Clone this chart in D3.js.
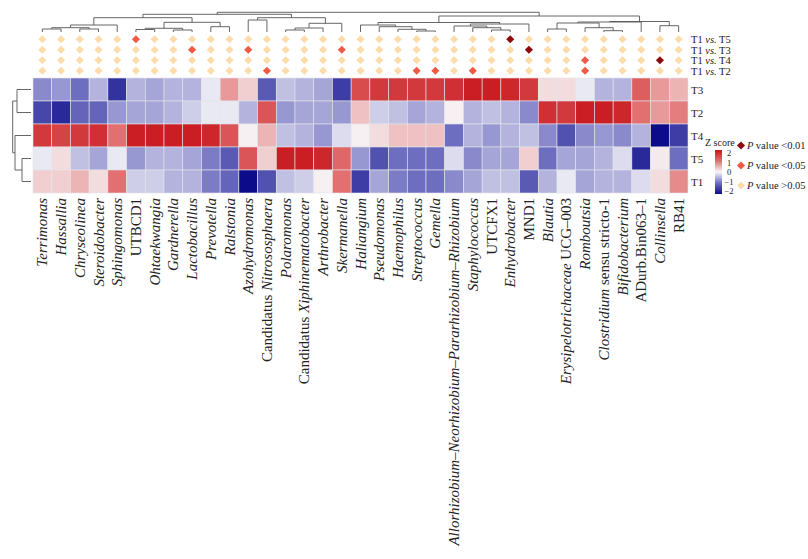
<!DOCTYPE html>
<html><head><meta charset="utf-8">
<script src="https://cdn.jsdelivr.net/npm/d3@7"></script>
<style>body{margin:0;background:#fff}text{font-family:"Liberation Serif","Times New Roman",serif;fill:#222}</style>
</head><body><svg width="808" height="559"></svg>
<script>
// genus labels, _x_ = italic
const genera = ["_Terrimonas_","_Hassallia_","_Chryseolinea_","_Steroidobacter_","_Sphingomonas_","UTBCD1","_Ohtaekwangia_","_Gardnerella_","_Lactobacillus_","_Prevotella_","_Ralstonia_","_Azohydromonas_","Candidatus _Nitrososphaera_","_Polaromonas_","Candidatus _Xiphinematobacter_","_Arthrobacter_","_Skermanella_","_Haliangium_","_Pseudomonas_","_Haemophilus_","_Streptococcus_","_Gemella_","_Allorhizobium\u2013Neorhizobium\u2013Pararhizobium\u2013Rhizobium_","_Staphylococcus_","UTCFX1","_Enhydrobacter_","MND1","_Blautia_","_Erysipelotrichaceae_ UCG\u2013003","_Romboutsia_","_Clostridium_ sensu stricto-1","_Bifidobacterium_","ADurb.Bin063\u20131","_Collinsella_","RB41"];
const groups = ["T3","T2","T4","T5","T1"];
// z scores, one array per row
const zT3 = [-0.8,-0.7,-1.0,-0.5,-1.6,-0.5,-0.6,-0.5,-0.5,-0.1,0.7,0.3,-1.2,-0.4,-0.5,-0.6,-1.5,1.4,1.6,1.6,1.6,1.6,1.7,1.9,1.9,1.8,1.6,0.2,0.2,-0.1,-0.5,-0.5,1.2,0.7,0.5];
const zT2 = [-1.4,-1.7,-1.1,-1.1,-0.7,-0.6,-0.6,-0.5,-0.3,-0.1,-0.1,-0.5,1.3,-0.7,-0.6,-0.6,-0.7,0.4,-0.3,-0.4,-0.6,-0.5,0.05,-0.5,-0.4,-0.5,-0.8,1.7,1.6,1.9,1.9,1.8,1.0,0.7,0.9];
const zT4 = [1.6,1.5,1.6,1.7,1.0,1.9,1.9,1.9,1.9,1.8,1.3,0.05,0.5,-0.4,-0.5,-0.7,-0.2,0.05,0.2,0.4,0.4,0.4,-1.0,-0.5,-0.7,-0.5,-0.4,-0.8,-1.3,-0.8,-0.7,-0.8,-0.5,-2.3,-1.5];
const zT5 = [-0.1,0.2,-0.4,-0.6,-0.1,-0.7,-0.5,-0.5,-0.6,-0.9,-1.2,1.3,0.3,1.9,1.9,1.8,1.1,-0.7,-1.3,-1.0,-1.0,-1.0,-0.2,-0.8,-0.6,-0.6,0.3,-1.0,-0.6,-0.6,-0.5,-0.2,-1.7,0.1,-1.0];
const zT1 = [0.3,0.3,0.5,0.2,1.0,-0.3,-0.3,-0.5,-0.5,-0.9,-1.1,-2.0,-1.3,-0.4,-0.3,0.05,1.0,-1.5,-0.6,-0.9,-1.0,-1.0,-0.8,-0.6,-0.4,-0.4,-1.2,-0.5,-0.1,-0.6,-0.5,-0.5,-0.2,0.2,0.8];
const zRows = [zT3, zT2, zT4, zT5, zT1];
// comparisons; significance 0: >0.05, 1: <0.05, 2: <0.01
const comparisons = ["T1 vs. T5","T1 vs. T3","T1 vs. T4","T1 vs. T2"];
const sigT5 = [0,0,0,0,0,1,0,0,0,0,0,0,0,0,0,0,0,0,0,0,0,0,0,0,0,2,0,0,0,0,0,0,0,0,0];
const sigT3 = [0,0,0,0,0,0,0,0,1,0,0,1,0,0,0,0,1,0,0,0,0,0,0,0,0,0,2,0,0,0,0,0,0,0,0];
const sigT4 = [0,0,0,0,0,0,0,0,0,0,0,0,0,0,0,0,0,0,0,0,0,0,0,0,0,0,0,0,0,1,0,0,0,2,0];
const sigT2 = [0,0,0,0,0,0,0,0,0,0,0,0,1,0,0,0,0,0,0,0,1,1,0,1,0,0,0,0,0,1,0,0,0,0,0];
const sigRows = [sigT5, sigT3, sigT4, sigT2];
const pLegend = ["value <0.01","value <0.05","value >0.05"];
const zTicks = [2, 1, 0, -1, -2];

// dendrogram nodes: merge height (px), two children; numbers are leaves
function n(h, a, b) { return {h: h, a: a, b: b}; }
const colTree = n(12.3,
  n(14.3,
    n(17.7,
      n(25, n(27.7, n(29, 0, 1), n(29, 2, 3)), 4),
      n(22.3, n(28.3, n(29.5, 5, 6), n(30, 7, 8)), n(26.7, 9, 10))),
    n(17.7, n(20, 11, 12), n(23.3, n(28, n(30, 13, 14), 15), 16))),
  n(16,
    n(22.5,
      n(25, 17, n(26.7, 18, n(29.3, 19, n(31, 20, 21)))),
      n(24, n(26, 22, n(27.7, 23, n(30, 24, 25))), 26)),
    n(21.5,
      n(22, n(23, n(29, 27, 28), n(27.7, 29, n(30.7, 30, 31))), 32),
      n(25.7, 33, 34))));
const rowTree = n(12.7, n(17, 0, 1), n(15, 2, n(22, 3, 4)));

const svg = d3.select("svg");
const L = 33, R = 688, T = 78, B = 193;
const x = d3.scaleBand().domain(d3.range(genera.length)).range([L, R]);
const y = d3.scaleBand().domain(d3.range(groups.length)).range([T, B]);
const color = d3.scaleLinear().domain([-2, -1, 0, 1, 2])
  .range(["#0c0c8a", "#6e6ec0", "#f7f7f9", "#e27070", "#c8151b"]).clamp(true);

// heatmap
zRows.forEach(function(row, r) {
  svg.append("g").selectAll("rect").data(row).join("rect")
    .attr("x", (d, i) => x(i)).attr("y", y(r))
    .attr("width", x.bandwidth()).attr("height", y.bandwidth())
    .attr("fill", d => color(d)).attr("stroke", "#e4e4ea").attr("stroke-width", 0.6);
});
svg.append("g").selectAll("text").data(groups).join("text")
  .attr("x", R + 3).attr("y", (d, i) => y(i) + y.bandwidth() / 2 + 4)
  .style("font-size", "11px").text(d => d);

// significance diamonds
const sigColor = ["#fcdcab", "#f05a45", "#8e0a0a"];
const dy = d3.scaleBand().domain(d3.range(4)).range([34, 76]);
const diamond = d3.symbol().type(d3.symbolDiamond2).size(42);
sigRows.forEach(function(row, r) {
  svg.append("g").selectAll("path").data(row).join("path")
    .attr("transform", (d, i) => "translate(" + (x(i) + x.bandwidth() / 2) + "," + (dy(r) + dy.bandwidth() / 2) + ")")
    .attr("d", diamond).attr("fill", d => sigColor[d]);
});
comparisons.forEach(function(c, r) {
  const parts = c.split(" ");
  const t = svg.append("text").attr("x", R + 3).attr("y", dy(r) + dy.bandwidth() / 2 + 4).style("font-size", "10.5px");
  t.append("tspan").text(parts[0] + " ");
  t.append("tspan").style("font-style", "italic").text(parts[1]);
  t.append("tspan").text(" " + parts[2]);
});

// labels with italic parts
function rich(sel, s) {
  s.split("_").forEach(function(p, k) {
    if (p) sel.append("tspan").style("font-style", k % 2 ? "italic" : "normal").text(p);
  });
}
genera.forEach(function(g, i) {
  const t = svg.append("text")
    .attr("transform", "translate(" + (x(i) + x.bandwidth() / 2 + 5) + "," + (B + 5) + ") rotate(-90)")
    .attr("text-anchor", "end").style("font-size", "15px");
  rich(t, g);
});

// dendrograms
function pos(node, leafPos) {
  if (typeof node === "number") return leafPos(node);
  return (pos(node.a, leafPos) + pos(node.b, leafPos)) / 2;
}
function drawTree(node, g, leafPos, leafH, horiz) {
  if (typeof node === "number") return;
  const pa = pos(node.a, leafPos), pb = pos(node.b, leafPos);
  const ha = typeof node.a === "number" ? leafH : node.a.h;
  const hb = typeof node.b === "number" ? leafH : node.b.h;
  let pts = [[pa, ha], [pa, node.h], [pb, node.h], [pb, hb]];
  if (horiz) pts = pts.map(q => [q[1], q[0]]);
  g.append("path").attr("d", d3.line()(pts))
    .attr("fill", "none").attr("stroke", "#555").attr("stroke-width", 0.9);
  drawTree(node.a, g, leafPos, leafH, horiz);
  drawTree(node.b, g, leafPos, leafH, horiz);
}
drawTree(colTree, svg.append("g"), i => x(i) + x.bandwidth() / 2, 32, false);
drawTree(rowTree, svg.append("g"), i => y(i) + y.bandwidth() / 2, 31, true);

// z-score legend
const lg = svg.append("g");
lg.append("text").attr("x", 705).attr("y", 146).style("font-size", "10px").text("Z score");
const grad = svg.append("defs").append("linearGradient").attr("id", "zg")
  .attr("x1", 0).attr("x2", 0).attr("y1", 0).attr("y2", 1);
zTicks.forEach((v, k) => grad.append("stop").attr("offset", k / 4).attr("stop-color", color(v)));
const ly = d3.scaleLinear().domain([2, -2]).range([153, 191]);
lg.append("rect").attr("x", 715).attr("y", 150).attr("width", 7).attr("height", 44).attr("fill", "url(#zg)");
lg.selectAll("text.t").data(zTicks).join("text").attr("class", "t")
  .attr("x", 729).attr("y", d => ly(d) + 3).attr("text-anchor", "middle").style("font-size", "8.5px")
  .text(d => d < 0 ? "\u2212" + (-d) : d);
pLegend.forEach(function(s, k) {
  const yy = 149 + k * 20;
  lg.append("path").attr("transform", "translate(741," + (yy - 3.5) + ")").attr("d", diamond).attr("fill", sigColor[2 - k]);
  const t = lg.append("text").attr("x", 747).attr("y", yy).style("font-size", "10.5px");
  t.append("tspan").style("font-style", "italic").text("P ");
  t.append("tspan").text(s);
});
</script></body></html>
